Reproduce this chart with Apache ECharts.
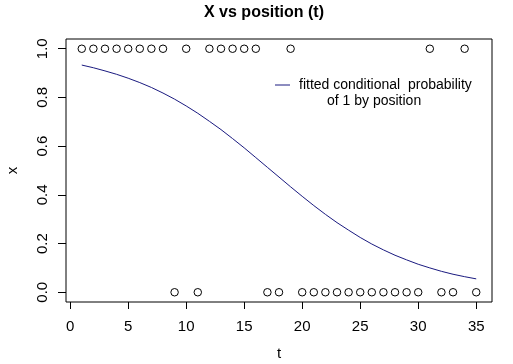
<!DOCTYPE html>
<html><head><meta charset="utf-8">
<script src="https://cdn.jsdelivr.net/npm/echarts@6/dist/echarts.min.js"></script>
<style>html,body{margin:0;padding:0;background:#fff}#c{width:513px;height:364px}</style>
</head><body><div id="c"></div>
<script>
const positions = [1,2,3,4,5,6,7,8,9,10,11,12,13,14,15,16,17,18,19,20,21,22,23,24,25,26,27,28,29,30,31,32,33,34,35];
const observed  = [1,1,1,1,1,1,1,1,0,1,0,1,1,1,1,1,0,0,1,0,0,0,0,0,0,0,0,0,0,0,1,0,0,1,0];
const fitted    = [0.933,0.922,0.909,0.895,0.879,0.861,0.841,0.818,0.793,0.765,0.735,0.702,0.668,0.631,0.593,0.553,0.513,0.473,0.433,0.394,0.356,0.320,0.286,0.255,0.225,0.198,0.174,0.152,0.133,0.115,0.100,0.086,0.074,0.064,0.055];
const xTicks = [0,5,10,15,20,25,30,35];
const yTicks = [0,0.2,0.4,0.6,0.8,1.0];
const titleText = 'X vs position (t)';
const legendLine1 = 'fitted conditional  probability';
const legendLine2 = 'of 1 by position';

const chart = echarts.init(document.getElementById('c'), null, {renderer:'canvas'});
const font = 'Liberation Sans, Arial, sans-serif';
const curveColor = '#1a1a80';
chart.setOption({
  animation:false,
  backgroundColor:'#fff',
  grid:{left:66,right:21,top:39,bottom:62,containLabel:false,outerBoundsMode:'none',show:true,borderColor:'#000',borderWidth:1,backgroundColor:'transparent'},
  xAxis:{type:'value',min:-0.36,max:36.36,
    name:'t',nameLocation:'middle',nameGap:44,nameTextStyle:{fontFamily:font,fontSize:15,color:'#000'},
    axisLine:{show:false,onZero:false},splitLine:{show:false},
    axisTick:{show:true,inside:false,length:7,lineStyle:{color:'#000'},customValues:xTicks},
    axisLabel:{color:'#000',fontFamily:font,fontSize:15,margin:17,customValues:xTicks,formatter:v=>String(v)}},
  yAxis:{type:'value',min:-0.04,max:1.04,
    name:'x',nameLocation:'middle',nameGap:46,nameRotate:90,nameTextStyle:{fontFamily:font,fontSize:15,color:'#000'},
    axisLine:{show:false,onZero:false},splitLine:{show:false},
    axisTick:{show:true,inside:false,length:8,lineStyle:{color:'#000'},customValues:yTicks},
    axisLabel:{color:'#000',fontFamily:font,fontSize:15,margin:16,rotate:90,align:'center',verticalAlign:'bottom',customValues:yTicks,formatter:v=>v.toFixed(1)}},
  graphic:[
    {type:'text',x:264,y:13,style:{text:titleText,font:'bold 16px '+font,fill:'#000',align:'center',verticalAlign:'middle'}},
    {type:'line',shape:{x1:275,y1:85,x2:290,y2:85},style:{stroke:curveColor,lineWidth:1}},
    {type:'text',x:299,y:85,style:{text:legendLine1,font:'14px '+font,fill:'#000',verticalAlign:'middle'}},
    {type:'text',x:327,y:101,style:{text:legendLine2,font:'14px '+font,fill:'#000',verticalAlign:'middle'}}
  ],
  series:[
    {type:'scatter',data:positions.map((t,i)=>[t,observed[i]]),symbol:'circle',symbolSize:7.5,
      itemStyle:{color:'#fff',borderColor:'#000',borderWidth:1,opacity:1},z:3},
    {type:'line',data:positions.map((t,i)=>[t,fitted[i]]),showSymbol:false,symbol:'none',
      lineStyle:{color:curveColor,width:1},z:2}
  ]
});
</script></body></html>
